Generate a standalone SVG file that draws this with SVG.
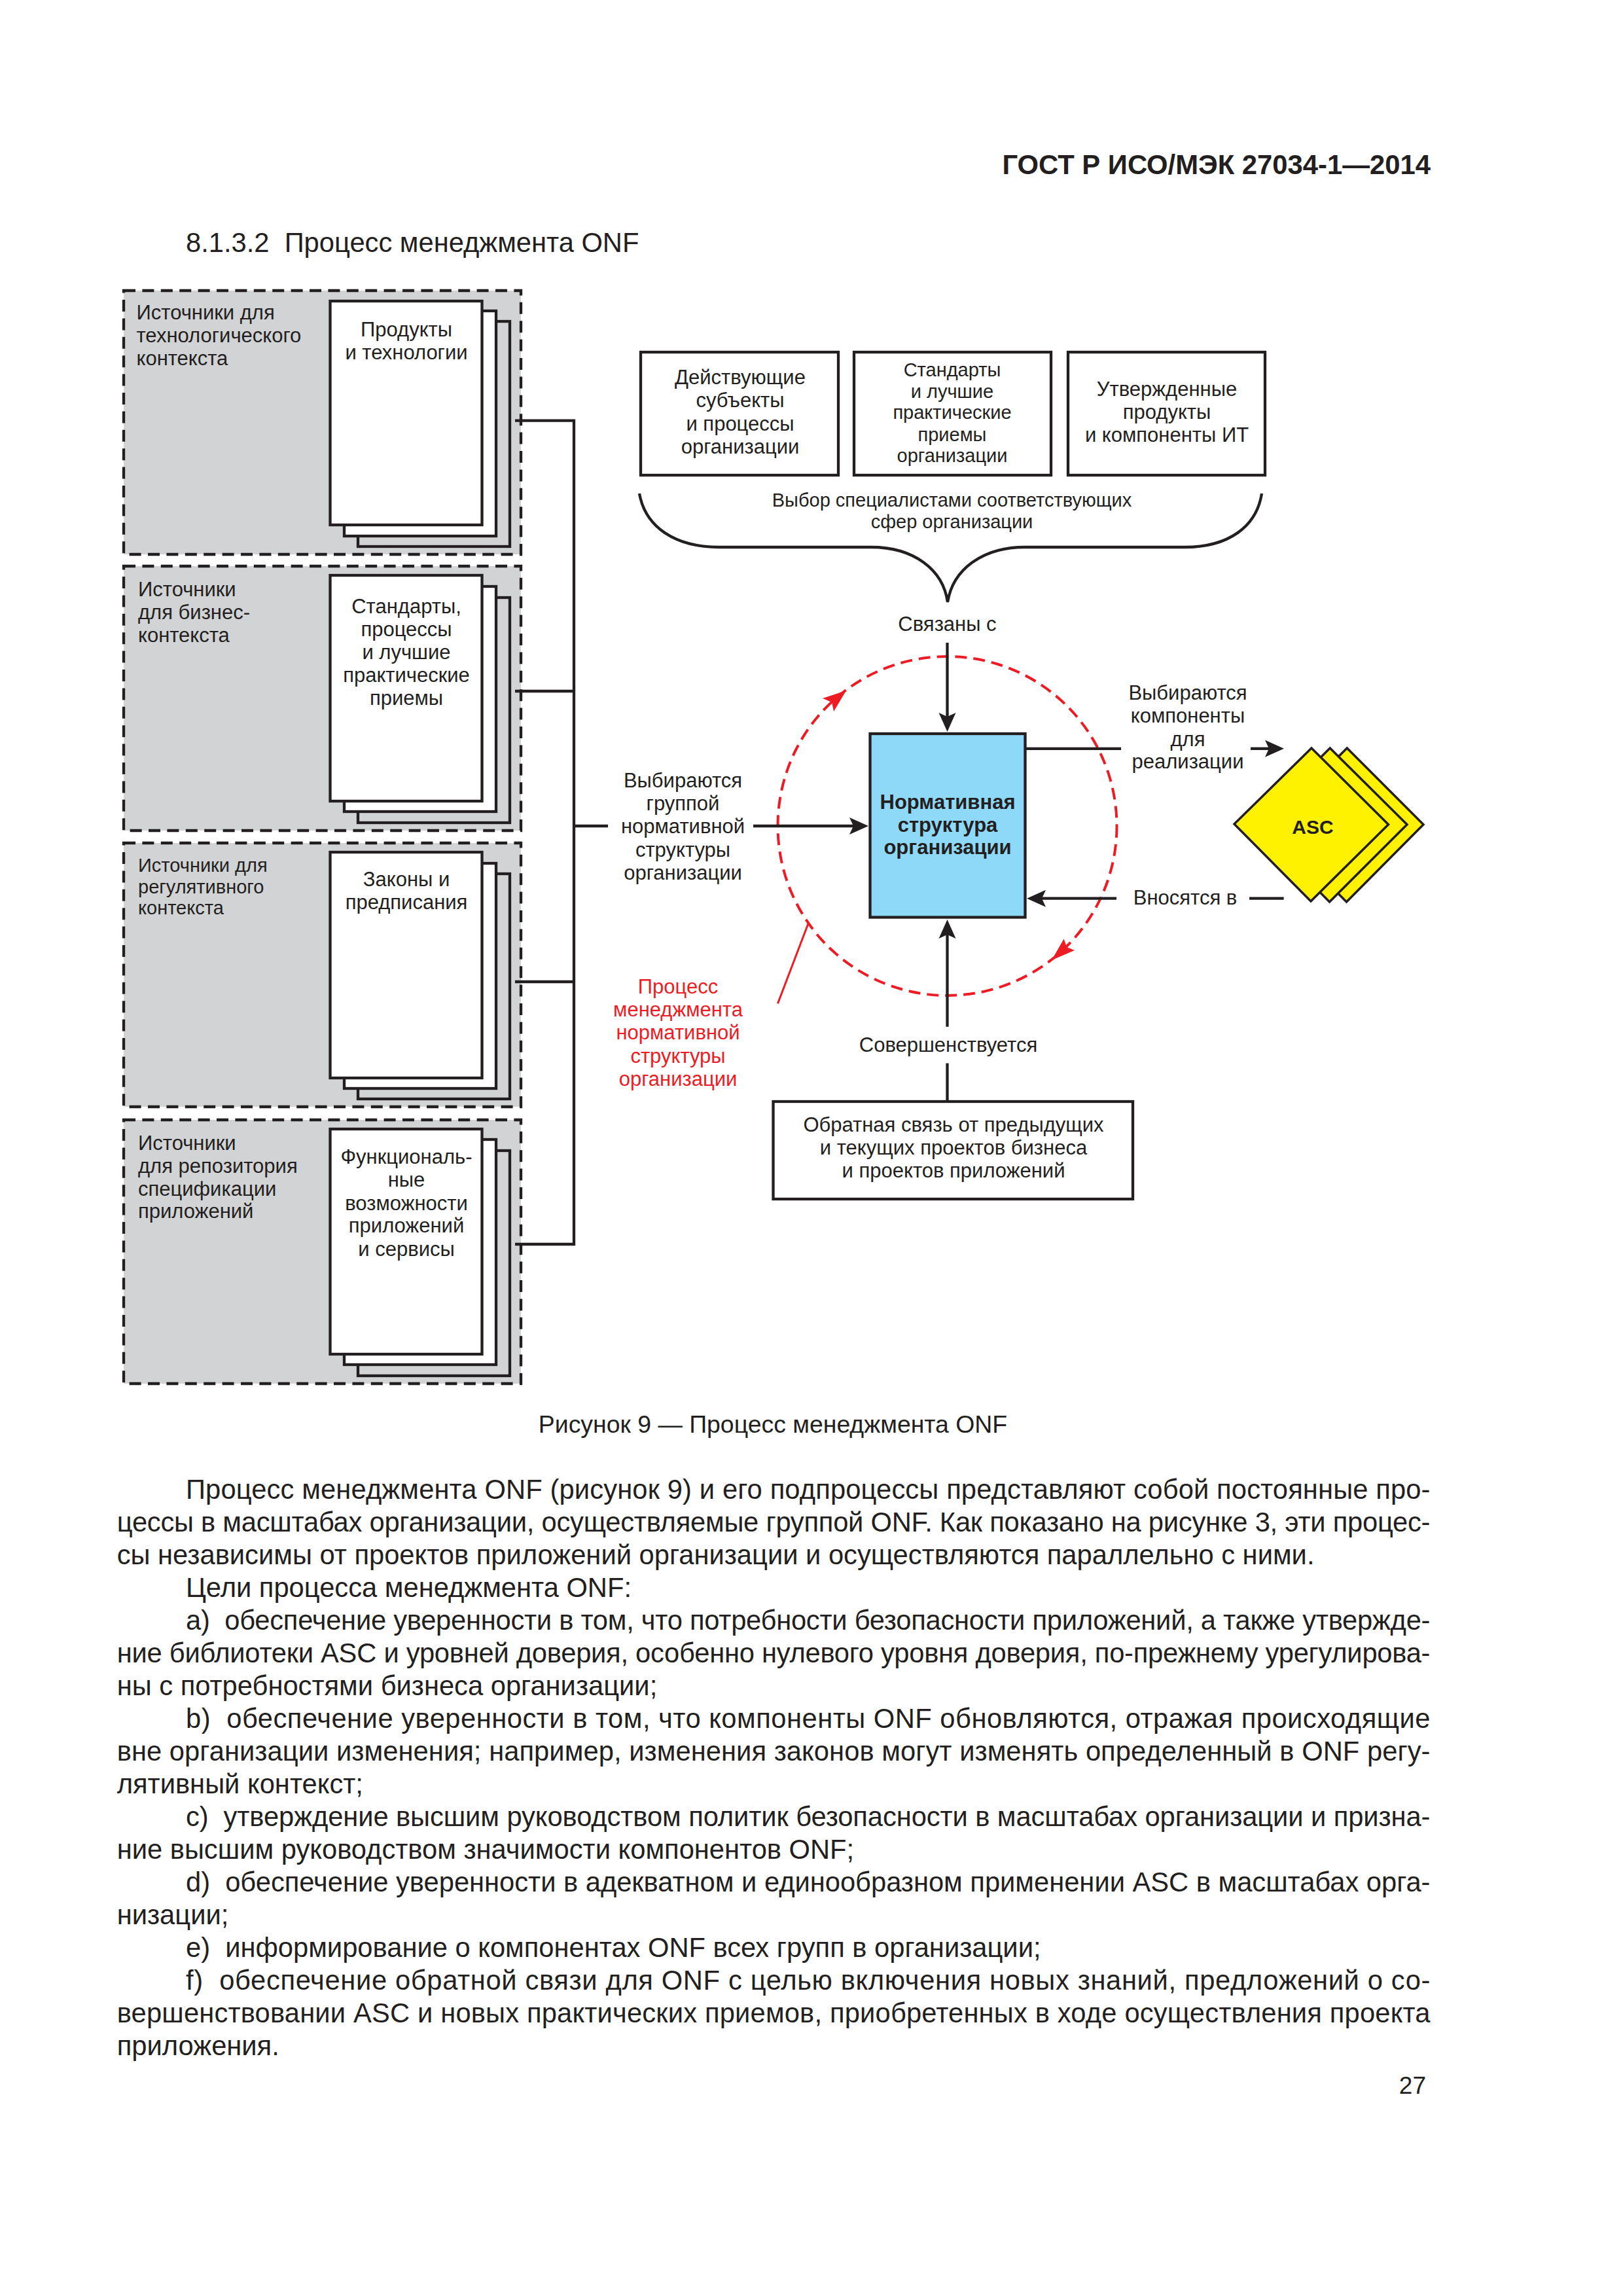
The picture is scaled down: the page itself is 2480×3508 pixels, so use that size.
<svg xmlns="http://www.w3.org/2000/svg" width="2480" height="3508" viewBox="0 0 2480 3508">
<style>
text{font-family:"Liberation Sans",Arial,sans-serif;fill:#231f20}
.t{font-size:31px}
.s{font-size:29px}
.c{text-anchor:middle}
.b{font-weight:bold}
.r{fill:#ed1c24}
.p{font-size:41.7px}
.zone{fill:#d1d3d4;stroke:#231f20;stroke-width:4.3;stroke-dasharray:18 10.4}
.pg{fill:#fff;stroke:#231f20;stroke-width:4.3}
.pg3{fill:#d1d3d4;stroke:#231f20;stroke-width:4.3}
.box{fill:#fff;stroke:#231f20;stroke-width:4.3}
.dia{fill:#fff200;stroke:#231f20;stroke-width:3.5;stroke-linejoin:miter}
.ln{fill:none;stroke:#231f20;stroke-width:4.3}
.rd{fill:none;stroke:#ed1c24;stroke-width:4}
</style>
<defs>
<marker id="ah" markerUnits="userSpaceOnUse" viewBox="-1 -14 31 28" markerWidth="31" markerHeight="28" refX="6" refY="0" orient="auto"><path d="M0,-13 L29,0 L0,13 L6,0 Z" fill="#231f20"/></marker>
</defs>
<g id="page-header">
<text x="2186" y="266" text-anchor="end" font-size="41.8" class="b">ГОСТ Р ИСО/МЭК 27034-1—2014</text>
<text x="284" y="385" class="p">8.1.3.2&#160; Процесс менеджмента ONF</text>
</g>
<g id="zone-tech">
<rect class="zone" x="189" y="444" width="607" height="403"/>
<rect class="pg3" x="547" y="491" width="232" height="344"/>
<rect class="pg" x="526" y="475" width="232" height="344"/>
<rect class="pg" x="504.500" y="460" width="232" height="342"/>
<text class="t" x="208.500" y="487.600">Источники для</text>
<text class="t" x="208.500" y="522.700">технологического</text>
<text class="t" x="208.500" y="557.800">контекста</text>
<text class="t c" x="621" y="513.600">Продукты</text>
<text class="t c" x="621" y="548.600">и технологии</text>
</g>
<g id="zone-business">
<rect class="zone" x="189" y="865" width="607" height="404"/>
<rect class="pg3" x="547" y="913" width="232" height="344"/>
<rect class="pg" x="526" y="896" width="232" height="344"/>
<rect class="pg" x="504.500" y="879" width="232" height="345"/>
<text class="t" x="211" y="910.600">Источники</text>
<text class="t" x="211" y="945.700">для бизнес-</text>
<text class="t" x="211" y="980.800">контекста</text>
<text class="t c" x="621" y="936.600">Стандарты,</text>
<text class="t c" x="621" y="971.600">процессы</text>
<text class="t c" x="621" y="1006.700">и лучшие</text>
<text class="t c" x="621" y="1041.800">практические</text>
<text class="t c" x="621" y="1077">приемы</text>
</g>
<g id="zone-regulatory">
<rect class="zone" x="189" y="1288" width="607" height="403"/>
<rect class="pg3" x="547" y="1335" width="232" height="344"/>
<rect class="pg" x="526" y="1319" width="232" height="344"/>
<rect class="pg" x="504.500" y="1302" width="232" height="345"/>
<text class="s" x="211" y="1332">Источники для</text>
<text class="s" x="211" y="1364.500">регулятивного</text>
<text class="s" x="211" y="1397">контекста</text>
<text class="t c" x="621" y="1353.500">Законы и</text>
<text class="t c" x="621" y="1389">предписания</text>
</g>
<g id="zone-repository">
<rect class="zone" x="189" y="1711" width="607" height="403"/>
<rect class="pg3" x="547" y="1758" width="232" height="344"/>
<rect class="pg" x="526" y="1741" width="232" height="344"/>
<rect class="pg" x="504.500" y="1725" width="232" height="344"/>
<text class="t" x="211" y="1756.500">Источники</text>
<text class="t" x="211" y="1792">для репозитория</text>
<text class="t" x="211" y="1826.500">спецификации</text>
<text class="t" x="211" y="1861">приложений</text>
<text class="t c" x="621" y="1778">Функциональ-</text>
<text class="t c" x="621" y="1812.800">ные</text>
<text class="t c" x="621" y="1848.600">возможности</text>
<text class="t c" x="621" y="1883">приложений</text>
<text class="t c" x="621" y="1918.500">и сервисы</text>
</g>
<g id="box-actors">
<rect class="box" x="979" y="538" width="302" height="188"/>
<text class="t c" x="1131" y="587.400">Действующие</text>
<text class="t c" x="1131" y="622.400">субъекты</text>
<text class="t c" x="1131" y="658">и процессы</text>
<text class="t c" x="1131" y="693">организации</text>
</g>
<g id="box-standards">
<rect class="box" x="1305" y="538" width="301" height="188"/>
<text class="s c" x="1455" y="575">Стандарты</text>
<text class="s c" x="1455" y="608.400">и лучшие</text>
<text class="s c" x="1455" y="640">практические</text>
<text class="s c" x="1455" y="673.500">приемы</text>
<text class="s c" x="1455" y="706">организации</text>
</g>
<g id="box-products">
<rect class="box" x="1632" y="538" width="301" height="188"/>
<text class="t c" x="1783" y="605">Утвержденные</text>
<text class="t c" x="1783" y="640">продукты</text>
<text class="t c" x="1783" y="674.700">и компоненты ИТ</text>
</g>
<g id="brace-label">
<path class="ln" d="M977 754 C986 805 1031 836 1099 836 L1331 836 C1396 836 1441 870 1448 920 C1456 870 1501 836 1566 836 L1810 836 C1877 836 1920 805 1928 754"/>
<text class="s c" x="1454.500" y="774">Выбор специалистами соответствующих</text>
<text class="s c" x="1454.500" y="807.400">сфер организации</text>
</g>
<g id="node-onf">
<rect x="1329.500" y="1121" width="237" height="280.500" fill="#8ed8f8" stroke="#231f20" stroke-width="4.300"/>
<text class="t c b" x="1448" y="1235.700">Нормативная</text>
<text class="t c b" x="1448" y="1270.700">структура</text>
<text class="t c b" x="1448" y="1305">организации</text>
</g>
<g id="node-asc">
<polygon class="dia" points="2058.300,1143 2175,1259.700 2057.500,1378 1941,1260"/>
<polygon class="dia" points="2032.300,1143 2150,1259.700 2031.500,1378 1915,1260"/>
<polygon class="dia" points="2004,1143 2121.500,1259.700 2003,1377 1886,1259"/>
<text class="t c b" x="2006" y="1274" style="font-size:30px">ASC</text>
</g>
<g id="box-feedback">
<rect class="box" x="1181.500" y="1683" width="549.500" height="149"/>
<text class="t c" x="1457" y="1729">Обратная связь от предыдущих</text>
<text class="t c" x="1457" y="1764">и текущих проектов бизнеса</text>
<text class="t c" x="1457" y="1799">и проектов приложений</text>
</g>
<g id="labels">
<text class="t c" x="1447.500" y="964">Связаны с</text>
<text class="t c" x="1815" y="1069">Выбираются</text>
<text class="t c" x="1815" y="1104">компоненты</text>
<text class="t c" x="1815" y="1139.700">для</text>
<text class="t c" x="1815" y="1174">реализации</text>
<text class="t c" x="1811" y="1382">Вносятся в</text>
<text class="t c" x="1043.500" y="1203">Выбираются</text>
<text class="t c" x="1043.500" y="1238">группой</text>
<text class="t c" x="1043.500" y="1273">нормативной</text>
<text class="t c" x="1043.500" y="1308.700">структуры</text>
<text class="t c" x="1043.500" y="1343.700">организации</text>
<text class="t c r" x="1036" y="1518">Процесс</text>
<text class="t c r" x="1036" y="1553">менеджмента</text>
<text class="t c r" x="1036" y="1588">нормативной</text>
<text class="t c r" x="1036" y="1624">структуры</text>
<text class="t c r" x="1036" y="1659">организации</text>
<text class="t c" x="1449" y="1607">Совершенствуется</text>
</g>
<g id="connectors">
<circle class="rd" cx="1447.500" cy="1262" r="259" stroke-dasharray="18 10"/>
<polygon fill="#ed1c24" points="1293,1055 1257,1067 1271,1073 1274,1087"/>
<polygon fill="#ed1c24" points="1607,1467 1625.600,1434.600 1630,1447 1642,1452"/>
<path class="rd" style="stroke-width:3" d="M1188.400 1533.400 L1235.800 1409"/>
<path class="ln" d="M787 642.700 H877 V1901 H787 M787 1056 H877 M787 1500 H877 M877 1262 H929"/>
<path class="ln" d="M1151 1262 H1304" marker-end="url(#ah)"/>
<path class="ln" d="M1447.500 982 V1095" marker-end="url(#ah)"/>
<path class="ln" d="M1566 1143.800 H1713"/>
<path class="ln" d="M1911 1143.800 H1939" marker-end="url(#ah)"/>
<path class="ln" d="M1706 1372.700 H1592" marker-end="url(#ah)"/>
<path class="ln" d="M1909 1372.700 H1961.600"/>
<path class="ln" d="M1447.500 1568.700 V1428" marker-end="url(#ah)"/>
<path class="ln" d="M1447.500 1624.500 V1683"/>
</g>
<g id="body-text">
<text class="c" x="1181" y="2189" style="font-size:37.4px">Рисунок 9 — Процесс менеджмента ONF</text>
<text class="p" x="284" y="2289.500" textLength="1901.500" lengthAdjust="spacing">Процесс менеджмента ONF (рисунок 9) и его подпроцессы представляют собой постоянные про-</text>
<text class="p" x="178.700" y="2339.500" textLength="2006.800" lengthAdjust="spacing">цессы в масштабах организации, осуществляемые группой ONF. Как показано на рисунке 3, эти процес-</text>
<text class="p" x="178.700" y="2389.500">сы независимы от проектов приложений организации и осуществляются параллельно с ними.</text>
<text class="p" x="284" y="2439.500">Цели процесса менеджмента ONF:</text>
<text class="p" x="284" y="2489.500" textLength="1901.500" lengthAdjust="spacing">a)&#160; обеспечение уверенности в том, что потребности безопасности приложений, а также утвержде-</text>
<text class="p" x="178.700" y="2539.500" textLength="2006.800" lengthAdjust="spacing">ние библиотеки ASC и уровней доверия, особенно нулевого уровня доверия, по-прежнему урегулирова-</text>
<text class="p" x="178.700" y="2589.500">ны с потребностями бизнеса организации;</text>
<text class="p" x="284" y="2639.500" textLength="1901.500" lengthAdjust="spacing">b)&#160; обеспечение уверенности в том, что компоненты ONF обновляются, отражая происходящие</text>
<text class="p" x="178.700" y="2689.500" textLength="2006.800" lengthAdjust="spacing">вне организации изменения; например, изменения законов могут изменять определенный в ONF регу-</text>
<text class="p" x="178.700" y="2739.500">лятивный контекст;</text>
<text class="p" x="284" y="2789.500" textLength="1901.500" lengthAdjust="spacing">c)&#160; утверждение высшим руководством политик безопасности в масштабах организации и призна-</text>
<text class="p" x="178.700" y="2839.500">ние высшим руководством значимости компонентов ONF;</text>
<text class="p" x="284" y="2889.500" textLength="1901.500" lengthAdjust="spacing">d)&#160; обеспечение уверенности в адекватном и единообразном применении ASC в масштабах орга-</text>
<text class="p" x="178.700" y="2939.500">низации;</text>
<text class="p" x="284" y="2989.500">e)&#160; информирование о компонентах ONF всех групп в организации;</text>
<text class="p" x="284" y="3039.500" textLength="1901.500" lengthAdjust="spacing">f)&#160; обеспечение обратной связи для ONF с целью включения новых знаний, предложений о со-</text>
<text class="p" x="178.700" y="3089.500" textLength="2006.800" lengthAdjust="spacing">вершенствовании ASC и новых практических приемов, приобретенных в ходе осуществления проекта</text>
<text class="p" x="178.700" y="3139.500">приложения.</text>
<text x="2179" y="3199" text-anchor="end" font-size="37">27</text>
</g>
</svg>
